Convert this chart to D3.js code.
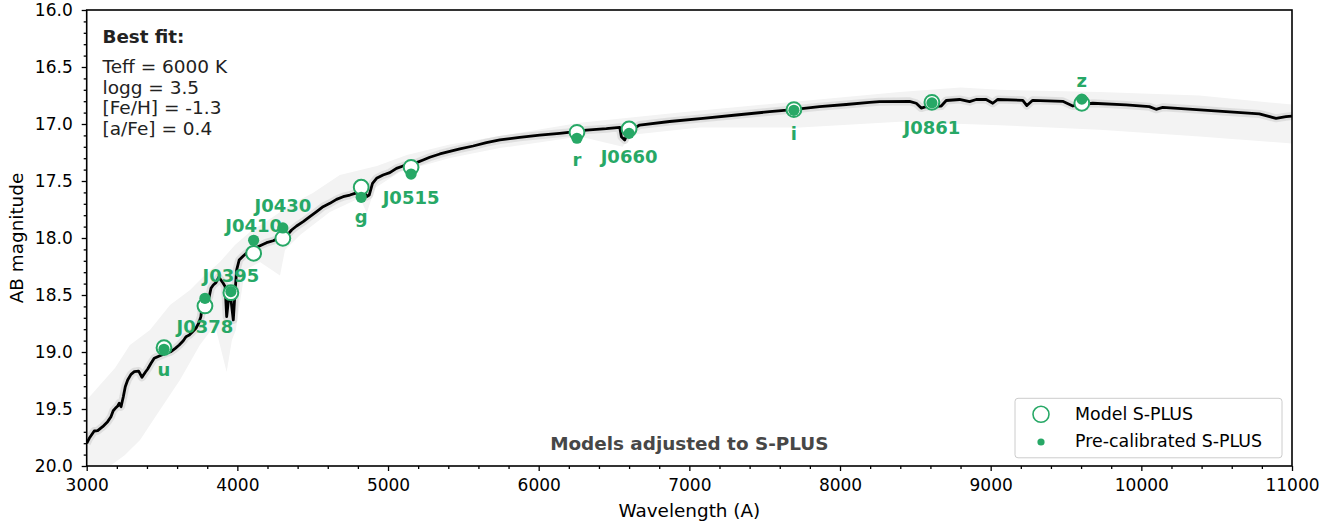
<!DOCTYPE html>
<html>
<head>
<meta charset="utf-8">
<script src="https://cdn.jsdelivr.net/npm/d3@7"></script>
<style>
  body { margin: 0; background: #fff; }
  svg { display: block; }
  text { font-family: "DejaVu Sans", sans-serif; }
</style>
</head>
<body>
<svg id="chart" width="1339" height="529"></svg>
<script>
// S-PLUS photometric bands: effective wavelength (A), best-fit model and pre-calibrated magnitudes
const filters   = ["u", "J0378", "J0395", "J0410", "J0430", "g", "J0515", "r", "J0660", "i", "J0861", "z"];
const filterWave = [3513, 3785, 3957, 4108, 4302, 4822, 5153, 6254, 6600, 7694, 8610, 9605];
const modelMag  = [18.962, 18.596, 18.480, 18.134, 18.003, 17.555, 17.380, 17.073, 17.044, 16.874, 16.810, 16.818];
const obsMag    = [18.976, 18.529, 18.470, 18.020, 17.912, 17.643, 17.439, 17.125, 17.082, 16.880, 16.815, 16.781];

// Band-name label offsets (px, relative to the model point)
const labelDy = [28, 27, -11, -21, -26, 36, 37, 34, 34, 30, 32, -16];

// Best-fit synthetic spectrum
const specWave = [3000,3017,3050,3073,3106,3139,3161,3176,3190,3206,3216,3228,3243,3256,3272,3294,3316,3345,3367,3389,
  3405,3427,3448,3482,3526,3559,3588,3614,3641,3659,3681,3703,3725,3743,3758,3765,3780,3796,3813,3825,
  3840,3858,3876,3891,3906,3919,3929,3941,3955,3973,3984,3995,4012,4039,4072,4116,4161,4194,4238,4271,
  4327,4360,4393,4437,4481,4526,4569,4614,4658,4702,4747,4780,4813,4846,4857,4875,4897,4924,4967,5012,
  5056,5100,5145,5189,5233,5277,5344,5410,5477,5565,5653,5742,5874,6007,6139,6228,6317,6449,6538,6549,
  6571,6593,6670,6869,7090,7312,7533,7687,7864,8041,8196,8262,8461,8506,8539,8572,8672,8705,8793,8860,
  8904,8970,9014,9047,9213,9240,9279,9478,9545,9677,9899,10053,10098,10142,10341,10562,10783,10894,10960,11000];
const specMag = [19.801,19.757,19.693,19.690,19.655,19.611,19.568,19.515,19.494,19.474,19.450,19.480,19.392,19.304,19.246,19.196,19.173,19.167,19.222,19.178,
  19.149,19.099,19.055,19.035,19.011,18.997,18.968,18.939,18.901,18.866,18.851,18.822,18.792,18.748,18.690,18.603,18.559,18.559,18.515,18.441,
  18.412,18.392,18.345,18.368,18.397,18.427,18.690,18.544,18.515,18.719,18.485,18.281,18.193,18.158,18.120,18.090,18.061,18.041,18.024,18.003,
  17.982,17.930,17.895,17.857,17.813,17.769,17.725,17.696,17.661,17.638,17.623,17.608,17.603,17.594,17.638,17.623,17.520,17.476,17.447,17.427,
  17.389,17.368,17.351,17.339,17.316,17.292,17.263,17.241,17.219,17.193,17.164,17.140,17.117,17.098,17.082,17.070,17.053,17.041,17.029,17.111,
  17.140,17.070,17.009,16.978,16.950,16.921,16.892,16.873,16.848,16.829,16.811,16.804,16.801,16.818,16.860,16.848,16.842,16.794,16.785,16.804,
  16.785,16.785,16.818,16.785,16.792,16.838,16.792,16.801,16.842,16.818,16.833,16.848,16.871,16.854,16.871,16.892,16.912,16.950,16.936,16.930];

// Spread of the other grid models around the best fit (bright and faint edges)
const envTopWave = [3000,3088,3188,3287,3420,3553,3686,3785,3884,3984,4083,4236,4349,4501,4680,4926,5125,5410,5742,6273,6936,7733,8396,8800,9059,9723,10386,11000];
const envTopMag  = [19.421,19.289,19.140,18.939,18.807,18.588,18.456,18.325,18.211,18.061,17.947,17.816,17.711,17.605,17.447,17.368,17.272,17.180,17.105,16.990,16.900,16.800,16.720,16.680,16.700,16.720,16.750,16.830];
const envBotWave = [3000,3155,3254,3354,3486,3619,3751,3851,3929,3964,3990,4050,4150,4283,4316,4416,4614,4813,4859,4913,5079,5410,5742,6273,6558,6604,7068,7733,8396,9059,9723,10386,11000];
const envBotMag  = [20.000,20.000,19.904,19.772,19.509,19.246,18.939,18.763,19.175,18.895,18.807,18.281,18.211,18.330,18.105,17.974,17.772,17.649,17.781,17.561,17.421,17.298,17.211,17.110,17.200,17.096,17.030,17.030,16.980,17.010,17.050,17.110,17.170];

// Best-fit parameters
const fitTitle = "Best fit:";
const fitLines = ["Teff = 6000 K", "logg = 3.5", "[Fe/H] = -1.3", "[a/Fe] = 0.4"];
const xTicks = [3000, 4000, 5000, 6000, 7000, 8000, 9000, 10000, 11000];
const yTicks = [16.0, 16.5, 17.0, 17.5, 18.0, 18.5, 19.0, 19.5, 20.0];

const GREEN = "#27a866";
const W = 1339, H = 529;
const m = { left: 86.7, top: 10, right: W - 1292, bottom: H - 466 };
const iw = W - m.left - m.right, ih = H - m.top - m.bottom;

const svg = d3.select("#chart");
const x = d3.scaleLinear().domain([3000, 11000]).range([m.left, m.left + iw]);
const y = d3.scaleLinear().domain([16, 20]).range([m.top, m.top + ih]);

svg.append("defs").append("clipPath").attr("id", "plotclip")
  .append("rect").attr("x", m.left).attr("y", m.top).attr("width", iw).attr("height", ih);

const plot = svg.append("g").attr("clip-path", "url(#plotclip)");

// model spread
const envTop = envTopWave.map((w, i) => [w, envTopMag[i]]);
const envBot = envBotWave.map((w, i) => [w, envBotMag[i]]).reverse();
const poly = d3.line().x(d => x(d[0])).y(d => y(d[1]));
plot.append("path").attr("d", poly(envTop.concat(envBot)) + "Z")
  .attr("fill", "#f3f3f3").attr("stroke", "none");

const spec = specWave.map((w, i) => [w, specMag[i]]);
const line = d3.line().x(d => x(d[0])).y(d => y(d[1]));
plot.append("path").attr("d", line(spec)).attr("fill", "none")
  .attr("stroke", "#d8d8d8").attr("stroke-width", 8).attr("stroke-linejoin", "round").attr("opacity", 0.75);
plot.append("path").attr("d", line(spec)).attr("fill", "none")
  .attr("stroke", "#000").attr("stroke-width", 2.8).attr("stroke-linejoin", "round");

// photometry
const pts = filters.map((f, i) => ({ f, w: filterWave[i], mod: modelMag[i], obs: obsMag[i], dy: labelDy[i] }));
plot.selectAll("circle.model").data(pts).join("circle").attr("class", "model")
  .attr("cx", d => x(d.w)).attr("cy", d => y(d.mod)).attr("r", 7.4)
  .attr("fill", "#fff").attr("stroke", GREEN).attr("stroke-width", 2);
plot.selectAll("circle.obs").data(pts).join("circle").attr("class", "obs")
  .attr("cx", d => x(d.w)).attr("cy", d => y(d.obs)).attr("r", 5.6)
  .attr("fill", GREEN);
svg.selectAll("text.band").data(pts).join("text").attr("class", "band")
  .attr("x", d => x(d.w)).attr("y", d => y(d.mod) + d.dy)
  .attr("text-anchor", "middle").attr("font-size", 18).attr("font-weight", "bold")
  .attr("fill", GREEN).text(d => d.f);

// axes
const xAxis = svg.append("g").attr("transform", `translate(0,${m.top + ih})`)
  .call(d3.axisBottom(x).tickValues(xTicks).tickFormat(d3.format("d")).tickSize(5).tickPadding(8));
const xMinor = svg.append("g").attr("transform", `translate(0,${m.top + ih})`)
  .call(d3.axisBottom(x).tickValues(d3.range(3000, 11001, 200).filter(v => v % 1000)).tickFormat("").tickSize(3));
const yAxis = svg.append("g").attr("transform", `translate(${m.left},0)`)
  .call(d3.axisLeft(y).tickValues(yTicks).tickFormat(d3.format(".1f")).tickSize(5).tickPadding(9));
const yMinor = svg.append("g").attr("transform", `translate(${m.left},0)`)
  .call(d3.axisLeft(y).tickValues(d3.range(160, 201).filter(v => v % 5).map(v => v / 10)).tickFormat("").tickSize(3));
[xAxis, xMinor, yAxis, yMinor].forEach(g => {
  g.select(".domain").remove();
  g.selectAll("line").attr("stroke", "#000").attr("stroke-width", 1.3);
  g.selectAll("text").attr("font-size", 17).attr("fill", "#000").attr("font-family", "DejaVu Sans");
});

// frame
svg.append("rect").attr("x", m.left).attr("y", m.top).attr("width", iw).attr("height", ih)
  .attr("fill", "none").attr("stroke", "#000").attr("stroke-width", 1.6);

svg.append("text").attr("x", m.left + iw / 2).attr("y", 517).attr("text-anchor", "middle")
  .attr("font-size", 18.4).text("Wavelength (A)");
svg.append("text").attr("transform", `translate(23,${m.top + ih / 2}) rotate(-90)`)
  .attr("text-anchor", "middle").attr("font-size", 18.4).text("AB magnitude");

// fit parameters box
svg.append("text").attr("x", 102.5).attr("y", 43).attr("font-size", 18.3).attr("font-weight", "bold")
  .attr("fill", "#222").text(fitTitle);
svg.selectAll("text.param").data(fitLines).join("text").attr("class", "param")
  .attr("x", 102.5).attr("y", (d, i) => 73 + i * 20.5).attr("font-size", 18.5).attr("fill", "#222").text(d => d);

svg.append("text").attr("x", m.left + iw / 2).attr("y", 450).attr("text-anchor", "middle")
  .attr("font-size", 18.4).attr("font-weight", "bold").attr("fill", "#474747").text("Models adjusted to S-PLUS");

// legend
const lg = svg.append("g");
lg.append("rect").attr("x", 1015).attr("y", 398.3).attr("width", 267).attr("height", 59.5).attr("rx", 3)
  .attr("fill", "#fff").attr("fill-opacity", 0.8).attr("stroke", "#cccccc").attr("stroke-width", 1);
lg.append("circle").attr("cx", 1041).attr("cy", 414.3).attr("r", 8).attr("fill", "#fff")
  .attr("stroke", GREEN).attr("stroke-width", 1.6);
lg.append("circle").attr("cx", 1041).attr("cy", 442).attr("r", 3.6).attr("fill", GREEN);
lg.append("text").attr("x", 1075).attr("y", 419.5).attr("font-size", 17.4).text("Model S-PLUS");
lg.append("text").attr("x", 1075).attr("y", 447).attr("font-size", 17.4).text("Pre-calibrated S-PLUS");
</script>
</body>
</html>
